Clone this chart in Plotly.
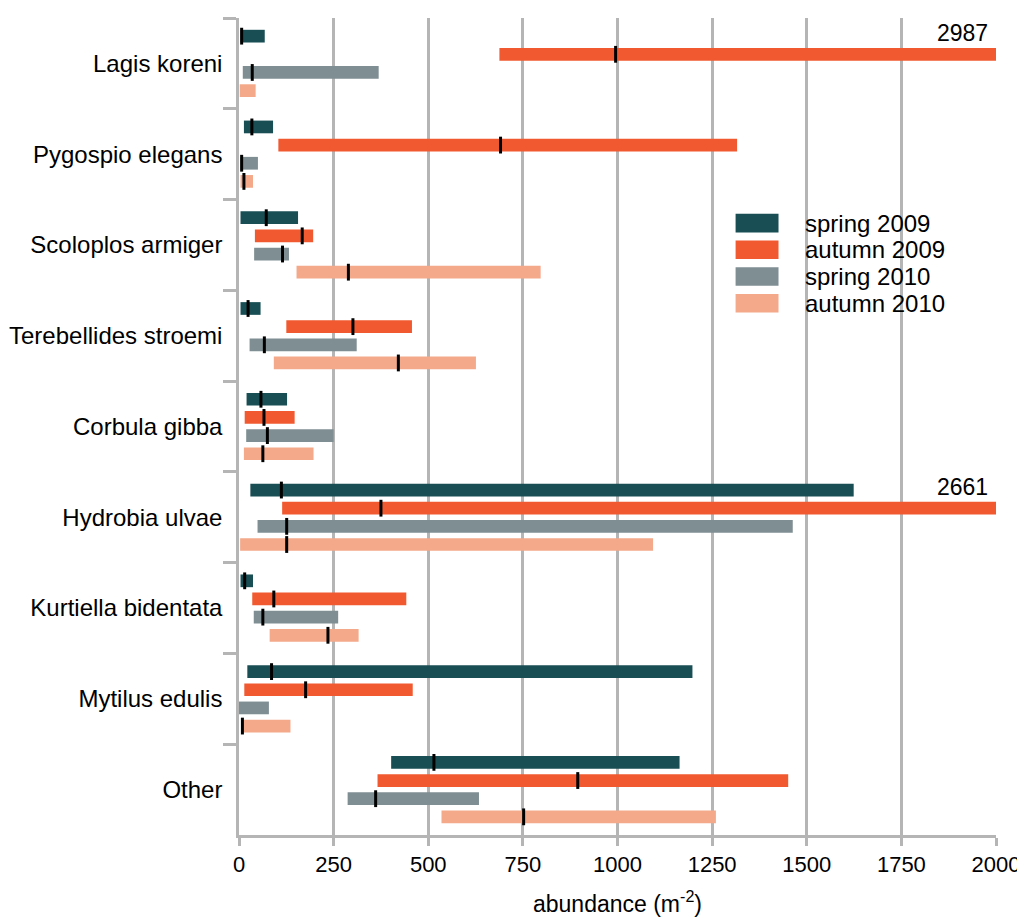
import plotly.graph_objects as go

species = ["Lagis koreni", "Pygospio elegans", "Scoloplos armiger", "Terebellides stroemi",
           "Corbula gibba", "Hydrobia ulvae", "Kurtiella bidentata", "Mytilus edulis", "Other"]

seasons = ["spring 2009", "autumn 2009", "spring 2010", "autumn 2010"]
colors = ["#184e54", "#f15a31", "#7e8e93", "#f4a98a"]

# min / max / median abundance per species (m-2)
spring09_min = [4, 13, 4, 4, 20, 30, 4, 22, 402]
spring09_max = [68, 90, 156, 57, 127, 1624, 37, 1198, 1164]
spring09_med = [7, 34, 72, 24, 58, 112, 15, 86, 515]

autumn09_min = [688, 104, 42, 125, 15, 114, 35, 14, 366]
autumn09_max = [2987, 1316, 196, 457, 147, 2661, 442, 459, 1451]
autumn09_med = [995, 691, 167, 301, 66, 375, 92, 176, 895]

spring10_min = [10, 4, 40, 28, 19, 49, 39, 0, 287]
spring10_max = [369, 50, 132, 311, 250, 1463, 262, 79, 634]
spring10_med = [35, 7, 115, 67, 75, 126, 63, None, 361]

autumn10_min = [2, 4, 152, 92, 13, 3, 81, 6, 535]
autumn10_max = [44, 37, 797, 626, 197, 1094, 316, 136, 1260]
autumn10_med = [None, 13, 289, 421, 63, 126, 235, 9, 752]

mins = [spring09_min, autumn09_min, spring10_min, autumn10_min]
maxs = [spring09_max, autumn09_max, spring10_max, autumn10_max]
meds = [spring09_med, autumn09_med, spring10_med, autumn10_med]

x_max = 2000
font = "Liberation Sans, Arial, Helvetica, sans-serif"
grey = "#b5b5b5"

fig = go.Figure()

# range bars (min -> max)
for i in range(4):
    fig.add_trace(go.Bar(y=species,
                         x=[hi - lo for lo, hi in zip(mins[i], maxs[i])],
                         base=mins[i],
                         orientation="h",
                         marker=dict(color=colors[i], line=dict(width=0)),
                         name=seasons[i]))

# median marks
for i in range(4):
    fig.add_trace(go.Scatter(y=species, x=meds[i],
                             mode="markers",
                             orientation="h",
                             marker=dict(symbol="line-ns", size=12,
                                         line=dict(color="black", width=3)),
                             hoverinfo="skip",
                             showlegend=False))

# values beyond the axis range
annotations = []
for i in range(4):
    for sp, hi in zip(species, maxs[i]):
        if hi > x_max:
            annotations.append(dict(x=x_max, y=sp, xref="x", yref="y", text=str(hi),
                                    showarrow=False, xanchor="right", xshift=-6, yshift=30,
                                    font=dict(size=23, color="black", family=font)))

# hand-made legend with wide swatches
shapes = []
for i, s in enumerate(seasons):
    yc = 0.749 - i * 0.0327
    shapes.append(dict(type="rect", xref="paper", yref="paper",
                       x0=0.656, x1=0.7127, y0=yc - 0.0114, y1=yc + 0.0114,
                       fillcolor=colors[i], line=dict(width=0)))
    annotations.append(dict(x=0.7457, y=yc, xref="paper", yref="paper", text=s,
                            showarrow=False, xanchor="left", yanchor="middle",
                            font=dict(size=24, color="black", family=font)))

# page body adds an 8px offset, margins compensate for it
fig.update_layout(width=1025, height=918,
                  margin=dict(l=231, r=37, t=10, b=91),
                  plot_bgcolor="white", paper_bgcolor="white",
                  barmode="group", bargap=0.2, bargroupgap=0.3,
                  scattermode="group", scattergap=0.2,
                  showlegend=False,
                  font=dict(family=font, size=23, color="black"),
                  xaxis=dict(range=[0, x_max], dtick=250, showgrid=True, gridcolor=grey, gridwidth=2.5,
                             zeroline=False, showline=True, linecolor=grey, linewidth=2.5,
                             ticks="outside", ticklen=8, tickwidth=2.5, tickcolor=grey,
                             tickfont=dict(size=22),
                             title=dict(text="abundance (m<sup>-2</sup>)", standoff=20,
                                        font=dict(size=23)),
                             automargin=False),
                  yaxis=dict(type="category", autorange="reversed", showgrid=False,
                             showline=True, linecolor=grey, linewidth=2.5,
                             ticks="outside", tickson="boundaries", ticklen=13, tickwidth=2.5,
                             tickcolor=grey, tickfont=dict(size=24), ticklabelstandoff=9,
                             automargin=False),
                  shapes=shapes,
                  annotations=annotations)

fig.write_html("out.html")
